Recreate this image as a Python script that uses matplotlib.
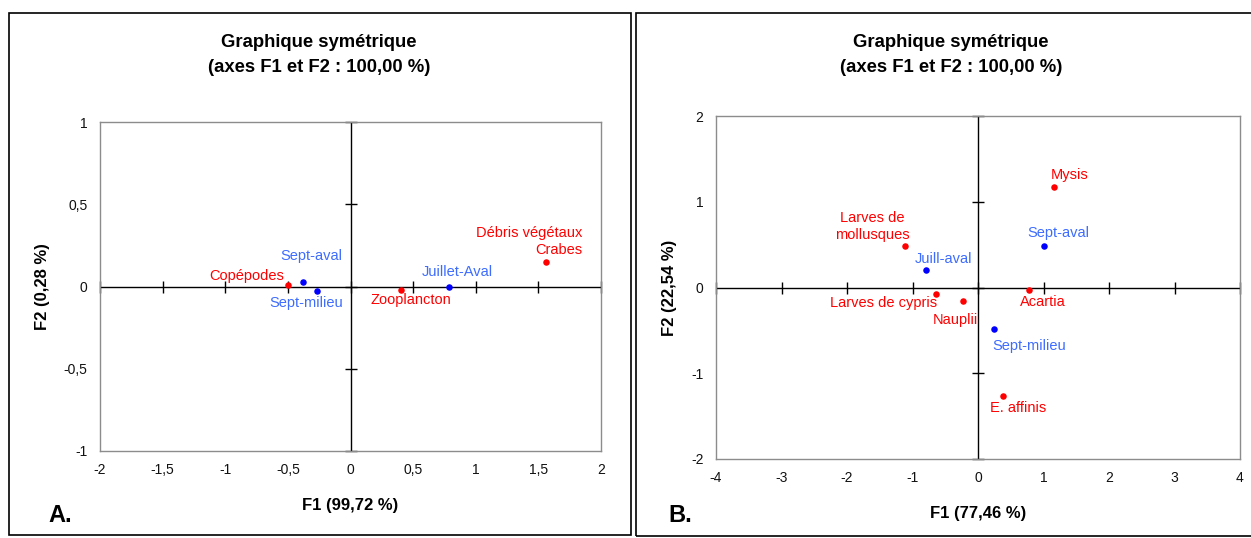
import matplotlib
matplotlib.use('Agg')
import matplotlib.pyplot as plt
from matplotlib.patches import Rectangle
from matplotlib.ticker import FuncFormatter

plt.rcParams['font.family'] = ['Liberation Sans', 'DejaVu Sans']

# panel A data
a_red_names = ['Copépodes', 'Zooplancton', 'Débris végétaux\nCrabes']
a_red_f1 = [-0.50, 0.40, 1.56]
a_red_f2 = [0.01, -0.02, 0.15]
a_blue_names = ['Sept-aval', 'Sept-milieu', 'Juillet-Aval']
a_blue_f1 = [-0.38, -0.27, 0.79]
a_blue_f2 = [0.03, -0.03, 0.0]

# panel B data
b_red_names = ['Mysis', 'Larves de\nmollusques', 'Larves de cypris', 'Nauplii', 'Acartia', 'E. affinis']
b_red_f1 = [1.16, -1.11, -0.64, -0.23, 0.78, 0.38]
b_red_f2 = [1.17, 0.48, -0.07, -0.16, -0.03, -1.26]
b_blue_names = ['Juill-aval', 'Sept-aval', 'Sept-milieu']
b_blue_f1 = [-0.79, 1.01, 0.24]
b_blue_f2 = [0.20, 0.48, -0.48]

title = 'Graphique symétrique\n(axes F1 et F2 : 100,00 %)'

RED = '#ff0000'
BLUE = '#0000ff'
LBLUE = '#3d6cff'

# label offsets in pixels (dx, dy, ha)
a_red_off = [(-4, 9, 'right'), (10, -10, 'center'), (36, 20, 'right')]
a_blue_off = [(8, 26, 'center'), (-10, -12, 'center'), (8, 14, 'center')]
b_red_off = [(16, 12, 'center'), (-33, 20, 'center'), (1, -9, 'right'), (-8, -19, 'center'), (14, -12, 'center'), (15, -12, 'center')]
b_blue_off = [(17, 11, 'center'), (14, 13, 'center'), (35, -17, 'center')]


def comma(v, pos):
    s = ('%g' % v).replace('.', ',')
    return s


def panel(ax, xlim, ylim, xstep, ystep, xlabel, ylabel, reds, blues):
    ax.set_xlim(*xlim)
    ax.set_ylim(*ylim)
    for sp in ax.spines.values():
        sp.set_color('#8c8c8c')
        sp.set_linewidth(1.0)
    xt = [xlim[0] + i * xstep for i in range(int(round((xlim[1] - xlim[0]) / xstep)) + 1)]
    yt = [ylim[0] + i * ystep for i in range(int(round((ylim[1] - ylim[0]) / ystep)) + 1)]
    ax.set_xticks(xt)
    ax.set_yticks(yt)
    ax.xaxis.set_major_formatter(FuncFormatter(comma))
    ax.yaxis.set_major_formatter(FuncFormatter(comma))
    ax.tick_params(length=0, labelsize=10, colors='#111111', pad=9)
    ax.axhline(0, color='black', lw=1.0, zorder=1)
    ax.axvline(0, color='black', lw=1.0, zorder=1)
    ax.plot(xt, [0] * len(xt), ls='none', marker='|', ms=8, mew=1.0, color='black', clip_on=False)
    ax.plot([0] * len(yt), yt, ls='none', marker='_', ms=8, mew=1.0, color='black', clip_on=False)
    for (names, f1, f2, offs), pc, tc in [(reds, RED, RED), (blues, BLUE, LBLUE)]:
        ax.scatter(f1, f2, s=22, color=pc, zorder=3, linewidths=0)
        for n, x, y, (dx, dy, ha) in zip(names, f1, f2, offs):
            ax.annotate(n, (x, y), xytext=(dx, dy), textcoords='offset pixels',
                        ha=ha, va='center', color=tc, fontsize=10.5,
                        multialignment=ha, linespacing=1.3)
    ax.set_xlabel(xlabel, fontsize=12, fontweight='bold', labelpad=15)
    ax.set_ylabel(ylabel, fontsize=12, fontweight='bold', labelpad=10)


fig = plt.figure(figsize=(12.51, 5.38), dpi=100)

fig.patches.append(Rectangle((9 / 1251, 3 / 538), 622 / 1251, 522 / 538, transform=fig.transFigure,
                             fill=False, edgecolor='black', lw=1.2))
fig.patches.append(Rectangle((636 / 1251, 2 / 538), 620 / 1251, 523 / 538, transform=fig.transFigure,
                             fill=False, edgecolor='black', lw=1.2))

axA = fig.add_axes([100 / 1251, 1 - 451 / 538, 501 / 1251, 329 / 538])
panel(axA, (-2, 2), (-1, 1), 0.5, 0.5, 'F1 (99,72 %)', 'F2 (0,28 %)',
      (a_red_names, a_red_f1, a_red_f2, a_red_off),
      (a_blue_names, a_blue_f1, a_blue_f2, a_blue_off))

axB = fig.add_axes([716 / 1251, 1 - 459 / 538, 524 / 1251, 343 / 538])
panel(axB, (-4, 4), (-2, 2), 1, 1, 'F1 (77,46 %)', 'F2 (22,54 %)',
      (b_red_names, b_red_f1, b_red_f2, b_red_off),
      (b_blue_names, b_blue_f1, b_blue_f2, b_blue_off))

fig.text(319 / 1251, 1 - 55 / 538, title, ha='center', va='center', fontsize=13.3,
         fontweight='bold', linespacing=1.6)
fig.text(951 / 1251, 1 - 55 / 538, title, ha='center', va='center', fontsize=13.3,
         fontweight='bold', linespacing=1.6)

fig.text(48 / 1251, 1 - 515 / 538, 'A.', ha='left', va='center', fontsize=17, fontweight='bold')
fig.text(668 / 1251, 1 - 515 / 538, 'B.', ha='left', va='center', fontsize=17, fontweight='bold')

fig.savefig('out.png', dpi=100)
